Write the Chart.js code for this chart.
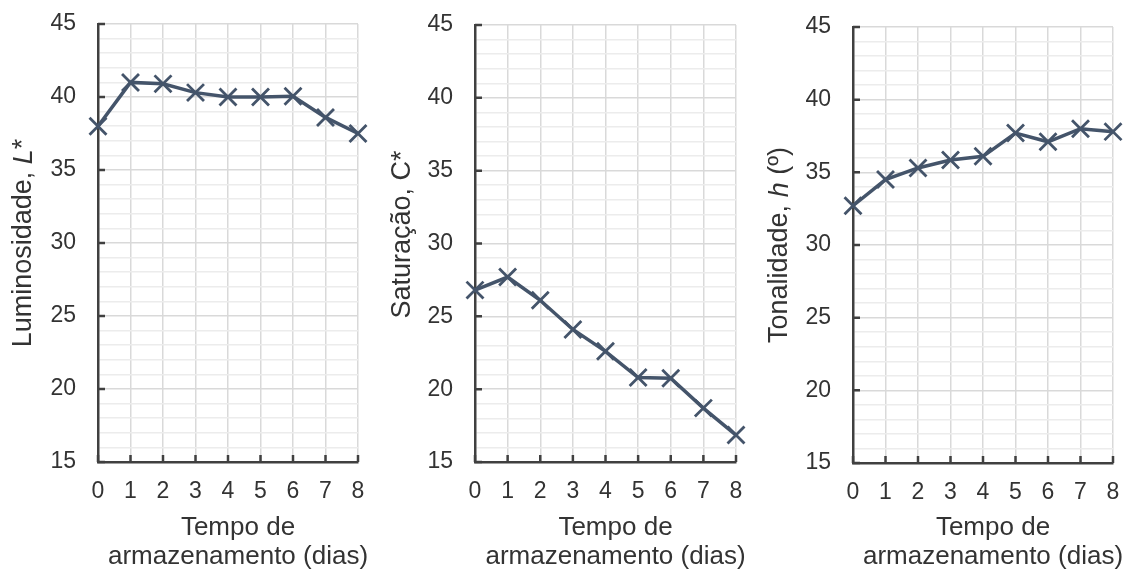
<!DOCTYPE html>
<html>
<head>
<meta charset="utf-8">
<script src="https://cdn.jsdelivr.net/npm/chart.js@4"></script>
<style>
  html, body { margin: 0; padding: 0; background: #fff; }
  .panel { position: absolute; top: 0; height: 575px; }
  #p1 { left: 0; width: 379px; }
  #p2 { left: 379px; width: 377px; }
  #p3 { left: 756px; width: 380px; }
</style>
</head>
<body>
<div class="panel" id="p1"><canvas id="c1"></canvas></div>
<div class="panel" id="p2"><canvas id="c2"></canvas></div>
<div class="panel" id="p3"><canvas id="c3"></canvas></div>
<script>
  // storage days
  const days = ['0', '1', '2', '3', '4', '5', '6', '7', '8'];
  // Luminosidade L*
  const lumValues = [38.0, 41.0, 40.9, 40.3, 40.0, 40.0, 40.05, 38.6, 37.5];
  // Saturação C*
  const satValues = [26.8, 27.7, 26.1, 24.1, 22.6, 20.8, 20.75, 18.7, 16.85];
  // Tonalidade h (°)
  const tonValues = [32.7, 34.5, 35.3, 35.85, 36.1, 37.7, 37.1, 38.0, 37.8];
  const yMin = 15, yMax = 45;
  const xTitle = ['Tempo de', 'armazenamento (dias)'];

  const lineColor = '#44546A';
  const axisColor = '#404040';
  const textColor = '#333333';
  const fontFamily = 'Arial, "Liberation Sans", sans-serif';

  // axis titles: y with mixed italic parts (rotated), x as two centred lines
  const titlesPlugin = {
    id: 'titles',
    afterDraw(chart, args, opts) {
      const c = chart.ctx;
      const a = chart.chartArea;
      const parts = opts.parts || [];
      c.save();
      c.fillStyle = textColor;
      c.textBaseline = 'middle';

      c.textAlign = 'center';
      c.font = '26px ' + fontFamily;
      const cx = (a.left + a.right) / 2 + 10;
      xTitle.forEach((line, i) => c.fillText(line, cx, 528 + i * 29));

      c.textAlign = 'left';
      let total = 0;
      parts.forEach(p => {
        c.font = (p.italic ? 'italic ' : '') + '27px ' + fontFamily;
        p.w = c.measureText(p.text).width;
        total += p.w;
      });
      c.translate(opts.x, (a.top + a.bottom) / 2 + (opts.shift || 0));
      c.rotate(-Math.PI / 2);
      let x = -total / 2;
      parts.forEach(p => {
        c.font = (p.italic ? 'italic ' : '') + '27px ' + fontFamily;
        c.fillText(p.text, x, 0);
        x += p.w;
      });
      c.restore();
    }
  };

  // small tick marks pointing into the plot
  const innerTicks = {
    id: 'innerTicks',
    afterDraw(chart) {
      const c = chart.ctx;
      const xs = chart.scales.x, ys = chart.scales.y;
      const a = chart.chartArea;
      c.save();
      c.strokeStyle = axisColor;
      c.lineWidth = 2.5;
      c.beginPath();
      for (let v = yMin; v <= yMax; v += 5) {
        const py = ys.getPixelForValue(v);
        c.moveTo(a.left, py);
        c.lineTo(a.left + 7, py);
      }
      days.forEach((d, i) => {
        const px = xs.getPixelForValue(i);
        c.moveTo(px, a.bottom);
        c.lineTo(px, a.bottom - 7);
      });
      c.stroke();
      c.restore();
    }
  };

  function makeChart(id, values, box, titleParts, shift) {
    const canvas = document.getElementById(id);
    const w = box.width, h = 575;
    return new Chart(canvas, {
      type: 'line',
      data: {
        labels: days,
        datasets: [{
          data: values,
          borderColor: lineColor,
          borderWidth: 3.5,
          pointStyle: 'crossRot',
          pointRadius: 12,
          pointBorderWidth: 2.8,
          pointBorderColor: lineColor,
          pointBackgroundColor: lineColor,
          tension: 0,
          clip: false
        }]
      },
      options: {
        responsive: false,
        animation: false,
        devicePixelRatio: 1,
        layout: { padding: { left: 0, right: w - box.right, top: box.top, bottom: 0 } },
        plugins: {
          legend: { display: false },
          tooltip: { enabled: false },
          titles: { parts: titleParts, x: 24, shift: shift }
        },
        scales: {
          x: {
            type: 'category',
            offset: false,
            grid: { color: '#d9d9d9', lineWidth: 1.5, drawTicks: false },
            border: { color: axisColor, width: 2.5 },
            ticks: {
              color: textColor, autoSkip: false, maxRotation: 0, padding: 16,
              font: { family: fontFamily, size: 23 }
            },
            afterFit(scale) {
              scale.height = h - box.bottom;
              scale.paddingLeft = 0;
              scale.paddingRight = 0;
            }
          },
          y: {
            min: yMin, max: yMax,
            grid: {
              drawTicks: false,
              lineWidth: 1.5,
              color: ctx => (ctx.tick && ctx.tick.value % 5 === 0) ? '#d9d9d9' : '#ececec'
            },
            border: { color: axisColor, width: 2.5 },
            ticks: {
              stepSize: 1, autoSkip: false, color: textColor, padding: 22,
              font: { family: fontFamily, size: 23 },
              callback: v => (v % 5 === 0 ? String(v) : '')
            },
            afterFit(scale) {
              scale.width = box.left;
              scale.paddingTop = 0;
              scale.paddingBottom = 0;
            }
          }
        }
      },
      plugins: [titlesPlugin, innerTicks]
    });
  }

  function sizeCanvas(id, w) {
    const c = document.getElementById(id);
    c.width = w; c.height = 575;
    c.style.width = w + 'px'; c.style.height = '575px';
  }
  sizeCanvas('c1', 379);
  sizeCanvas('c2', 377);
  sizeCanvas('c3', 380);

  makeChart('c1', lumValues, { width: 379, left: 98, right: 358, top: 24, bottom: 462 },
    [{ text: 'Luminosidade, ' }, { text: 'L', italic: true }, { text: '*' }], 0);
  makeChart('c2', satValues, { width: 377, left: 96, right: 357, top: 25, bottom: 462 },
    [{ text: 'Saturação, C*' }], -9);
  makeChart('c3', tonValues, { width: 380, left: 97, right: 357, top: 27, bottom: 463 },
    [{ text: 'Tonalidade, ' }, { text: 'h', italic: true }, { text: ' (º)' }], 0);
</script>
</body>
</html>
